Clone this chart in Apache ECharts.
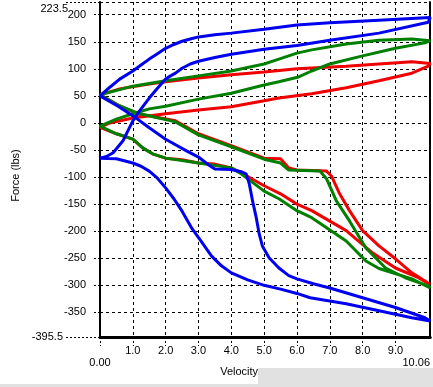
<!DOCTYPE html>
<html>
<head>
<meta charset="utf-8">
<script src="https://cdn.jsdelivr.net/npm/echarts@6/dist/echarts.min.js"></script>
<style>html,body{margin:0;padding:0;background:#fff;}#c{width:433px;height:387px;}</style>
</head>
<body>
<div id="c"></div>
<script>
// Axis ticks / labels
const forceTicks = [-350, -300, -250, -200, -150, -100, -50, 0, 50, 100, 150, 200];
const forceEnds = [-395.5, 223.5];
const velTicks = [0, 1, 2, 3, 4, 5, 6, 7, 8, 9];
const velEnds = [0, 10.06];

// Blue loop
const blueVel = [0,0.3,0.6,1.0,1.25,1.5,1.75,2.0,2.25,2.5,2.75,3.0,3.5,4.0,5.0,6.0,7.0,8.5,10.06,
  10.0,8.5,7.0,6.0,5.0,4.0,3.5,3.0,2.75,2.5,2.3,2.15,2.0,1.75,1.5,1.2,1.0,0.7,0.4,0.2,0,
  0.5,1.0,1.25,1.5,1.75,2.0,2.25,2.5,2.8,3.1,3.4,3.7,4.0,4.5,5.0,5.5,6.0,6.4,7.5,8.5,9.5,10.06,
  9.9,9.0,8.0,7.0,6.5,6.0,5.75,5.45,5.15,4.95,4.85,4.76,4.65,4.55,4.45,4.3,4.0,3.5,3.3,3.0,2.65,2.0,1.5,1.1,0.55,0];
const blueForce = [50,66,81,96,107,118,128,138,145,151,155,159,163,166,173,181,185,190,195,
  186,166,153,143,136,127,121,114,109,101,92,87,81,64,46,22,4,-33,-55,-62,-65,
  -66,-74,-80,-89,-102,-120,-140,-163,-195,-220,-246,-264,-277,-290,-300,-307,-315,-323,-334,-347,-360,-366,
  -360,-341,-323,-305,-297,-288,-282,-268,-249,-228,-205,-175,-145,-113,-94,-90,-86,-85,-77,-63,-52,-30,-9,9,31,50];

// Red loop
const redVel = [0,0.6,1.5,2.0,3.0,4.0,5.0,6.0,7.5,8.5,9.5,10.06,
  10.0,9.5,8.5,7.5,6.45,5.45,5.0,4.0,3.0,2.0,1.0,0.3,0,
  0.5,1.0,1.3,1.6,2.0,2.5,3.0,3.5,4.0,4.3,5.0,5.5,6.0,6.45,7.5,8.3,9.0,9.7,10.06,
  9.9,9.5,9.0,8.5,8.0,7.6,7.3,7.05,6.9,6.0,5.75,5.5,5.0,4.0,3.0,2.3,1.15,0.55,0];
const redForce = [52,63,72,76,83,89,94,100,105,109,113,110,
  105,92,78,65,54,46,41,30,24,17,9,0,-8,
  -20,-30,-46,-57,-65,-68,-74,-76,-83,-92,-116,-131,-150,-162,-199,-240,-268,-286,-299,
  -292,-277,-251,-227,-199,-162,-131,-98,-89,-87,-83,-66,-65,-42,-20,4,17,33,52];

// Green loop
const greenVel = [0,1.0,2.0,3.0,4.0,5.0,5.45,6.0,6.45,7.5,8.5,9.5,10.06,
  9.9,9.0,8.0,7.0,6.45,6.05,5.45,5.0,4.0,3.0,2.0,1.5,1.0,0.5,0,
  0.5,1.0,1.3,1.6,2.0,3.0,4.0,4.3,5.0,5.45,6.0,6.45,7.5,8.1,8.5,9.5,10.06,
  10.0,9.3,8.7,8.1,7.6,7.2,6.9,6.7,5.75,5.5,5.0,4.0,3.0,2.3,1.15,0.55,0];
const greenForce = [52,68,78,87,96,109,118,129,135,146,153,155,152,
  148,138,124,109,96,85,76,70,55,44,31,26,17,7,-6,
  -20,-30,-46,-57,-65,-74,-83,-94,-126,-140,-162,-175,-218,-255,-269,-288,-305,
  -301,-286,-268,-231,-181,-144,-103,-89,-87,-74,-67,-44,-22,2,18,33,52];

const FONT = 'Liberation Sans, Arial, sans-serif';
const pair = (vs, fs) => vs.map((v, i) => [v, fs[i]]);

const chart = echarts.init(document.getElementById('c'), null, {renderer: 'canvas'});
chart.setOption({
  animation: false,
  backgroundColor: '#fff',
  grid: {left: 100, right: 1, top: 2, bottom: 50, containLabel: false},
  xAxis: [{
    type: 'value', min: velEnds[0], max: velEnds[1], position: 'bottom',
    axisLine: {show: true, onZero: false, lineStyle: {color: '#000', width: 3}},
    axisTick: {show: true, length: 9, customValues: velTicks, lineStyle: {color: '#000', type: [2, 2]}},
    axisLabel: {
      customValues: velTicks.slice(1).concat(velEnds), margin: 8,
      color: '#000', fontSize: 11, fontFamily: FONT,
      formatter: v => v === velEnds[0] ? '{e|0.00}' : (v === velEnds[1] ? '{r|' + velEnds[1].toFixed(2) + '}' : v.toFixed(1)),
      rich: {
        e: {padding: [12, 0, 0, 0], color: '#000', fontSize: 11, fontFamily: FONT},
        r: {padding: [12, 28, 0, 0], color: '#000', fontSize: 11, fontFamily: FONT}
      }
    },
    splitLine: {show: true, lineStyle: {color: '#000', type: [3, 3], width: 1}},
    name: 'Velocity', nameLocation: 'middle', nameGap: 29, nameMoveOverlap: false,
    nameTextStyle: {color: '#000', fontSize: 11, fontFamily: FONT, padding: [0, 52, 0, 0]}
  }],
  yAxis: [{
    type: 'value', min: forceEnds[0], max: forceEnds[1], position: 'left',
    axisLine: {show: true, onZero: false, lineStyle: {color: '#000', width: 2}},
    axisTick: {show: true, length: 8, customValues: forceTicks.concat([forceEnds[1]]), lineStyle: {color: '#000', type: [2, 2]}},
    axisLabel: {customValues: forceTicks, margin: 14, color: '#000', fontSize: 11, fontFamily: FONT},
    splitLine: {show: true, lineStyle: {color: '#000', type: [3, 3], width: 1}},
    name: 'Force (lbs)', nameLocation: 'middle', nameGap: 79, nameRotate: 90, nameMoveOverlap: false,
    nameTextStyle: {color: '#000', fontSize: 11, fontFamily: FONT, padding: [0, 12, 0, 0]}
  }, {
    type: 'value', min: forceEnds[0], max: forceEnds[1], position: 'left',
    axisLine: {show: false},
    axisTick: {show: true, length: 34, customValues: forceEnds, lineStyle: {color: '#000', type: [2, 2]}},
    axisLabel: {
      customValues: forceEnds, margin: 32, color: '#000', fontSize: 11, fontFamily: FONT,
      formatter: v => v === forceEnds[1] ? '{t|' + v + '}' : '{b|' + v + '}',
      rich: {
        t: {padding: [14, 0, 0, 0], color: '#000', fontSize: 11, fontFamily: FONT},
        b: {padding: [0, 5, 0, 0], color: '#000', fontSize: 11, fontFamily: FONT}
      }
    },
    splitLine: {show: false}
  }, {
    type: 'value', min: forceEnds[0], max: forceEnds[1], position: 'right',
    axisLine: {show: true, lineStyle: {color: '#000', width: 2}},
    axisTick: {show: false}, axisLabel: {show: false}, splitLine: {show: false}
  }],
  series: [
    {type: 'line', name: 'red', data: pair(redVel, redForce), showSymbol: false, symbol: 'none',
     lineStyle: {color: '#f00000', width: 3}, clip: false},
    {type: 'line', name: 'green', data: pair(greenVel, greenForce), showSymbol: false, symbol: 'none',
     lineStyle: {color: '#008000', width: 3}, clip: false},
    {type: 'line', name: 'blue', data: pair(blueVel, blueForce), showSymbol: false, symbol: 'none',
     lineStyle: {color: '#0000f0', width: 3}, clip: false}
  ],
  graphic: [
    {type: 'rect', z: -1, shape: {x: 258, y: 368, width: 175, height: 19}, style: {fill: '#e1e1e1'}},
    {type: 'rect', z: -1, shape: {x: 0, y: 384, width: 433, height: 3}, style: {fill: '#e1e1e1'}}
  ]
});
</script>
</body>
</html>
